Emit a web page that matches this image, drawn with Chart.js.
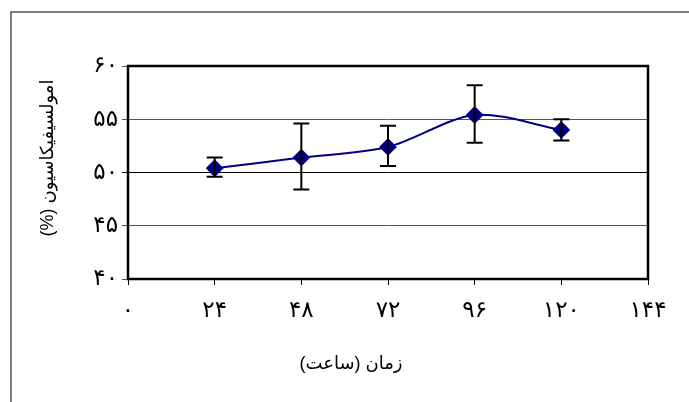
<!DOCTYPE html>
<html>
<head>
<meta charset="utf-8">
<script src="https://cdn.jsdelivr.net/npm/chart.js@4"></script>
<style>
  html, body { margin: 0; padding: 0; background: #fff; }
  #wrap { width: 689px; height: 402px; }
</style>
</head>
<body>
<div id="wrap"><canvas id="chart"></canvas></div>
<script>
// chart values
const hours = [24, 48, 72, 96, 120];
const emulsification = [50.4, 51.4, 52.4, 55.4, 54.0];
const errLow = [49.6, 48.4, 50.6, 52.8, 53.0];
const errHigh = [51.4, 54.6, 54.4, 58.2, 55.0];

const xTickLabels = ['۰', '۲۴', '۴۸', '۷۲', '۹۶', '۱۲۰', '۱۴۴'];
const yTickLabels = ['۴۰', '۴۵', '۵۰', '۵۵', '۶۰'];

const xTitle = 'زمان (ساعت)';
const yTitle = 'امولسیفیکاسیون (%)';

const fontFamily = "'Liberation Sans', 'DejaVu Sans', sans-serif";

// error bars drawn through the chart scales
const errorBars = {
  id: 'errorBars',
  afterDatasetsDraw(chart) {
    const ctx = chart.ctx;
    const xs = chart.scales.x, ys = chart.scales.y;
    ctx.save();
    ctx.strokeStyle = '#000';
    ctx.lineWidth = 2;
    hours.forEach((h, i) => {
      const x = xs.getPixelForValue(h);
      const yLo = ys.getPixelForValue(errLow[i]);
      const yHi = ys.getPixelForValue(errHigh[i]);
      ctx.beginPath();
      ctx.moveTo(x, yLo); ctx.lineTo(x, yHi);
      ctx.moveTo(x - 8, yLo); ctx.lineTo(x + 8, yLo);
      ctx.moveTo(x - 8, yHi); ctx.lineTo(x + 8, yHi);
      ctx.stroke();
    });
    ctx.restore();
  }
};

// plot frame, outer border (top + left only) and the two axis titles (rtl)
const frames = {
  id: 'frames',
  beforeDraw(chart) {
    const ctx = chart.ctx;
    ctx.save();
    ctx.strokeStyle = '#555';
    ctx.lineWidth = 1.5;
    ctx.beginPath();
    ctx.moveTo(11, chart.height);
    ctx.lineTo(11, 12);
    ctx.lineTo(chart.width, 12);
    ctx.stroke();
    ctx.restore();
  },
  afterDraw(chart) {
    const a = chart.chartArea;
    const ctx = chart.ctx;
    ctx.save();
    ctx.strokeStyle = '#000';
    ctx.lineWidth = 2.5;
    ctx.strokeRect(a.left, a.top, a.right - a.left, a.bottom - a.top);

    ctx.fillStyle = '#000';
    ctx.font = '18px ' + fontFamily;
    ctx.direction = 'rtl';
    ctx.textAlign = 'center';
    ctx.textBaseline = 'middle';
    ctx.fillText(xTitle, 351, 364);

    ctx.translate(48, 158);
    ctx.rotate(-Math.PI / 2);
    ctx.fillText(yTitle, 0, 0);
    ctx.restore();
  }
};

new Chart(document.getElementById('chart'), {
  type: 'line',
  data: {
    datasets: [{
      data: hours.map((h, i) => ({ x: h, y: emulsification[i] })),
      borderColor: '#000080',
      borderWidth: 2,
      backgroundColor: '#000080',
      pointStyle: 'rectRot',
      pointRadius: 7.5,
      pointBackgroundColor: '#000080',
      pointBorderColor: '#000080',
      tension: 0.3,
      fill: false
    }]
  },
  options: {
    responsive: true,
    maintainAspectRatio: false,
    animation: false,
    layout: { padding: { top: 66, right: 41, left: 0, bottom: 0 } },
    plugins: {
      legend: { display: false },
      tooltip: { enabled: false }
    },
    scales: {
      x: {
        type: 'linear',
        min: 0,
        max: 144,
        afterFit: (scale) => { scale.height = 123; },
        afterBuildTicks: (scale) => {
          scale.ticks = xTickLabels.map((_, i) => ({ value: i * 24 }));
        },
        ticks: {
          autoSkip: false,
          maxRotation: 0,
          padding: 12,
          color: '#000',
          font: { family: fontFamily, size: 23 },
          callback: (v) => xTickLabels[v / 24]
        },
        grid: { drawOnChartArea: false, drawTicks: true, tickLength: 6, color: '#000' },
        border: { color: '#000', width: 2 }
      },
      y: {
        min: 40,
        max: 60,
        afterFit: (scale) => { scale.width = 128; },
        afterBuildTicks: (scale) => {
          scale.ticks = yTickLabels.map((_, i) => ({ value: 40 + i * 5 }));
        },
        ticks: {
          padding: 4,
          color: '#000',
          font: { family: fontFamily, size: 23 },
          callback: (v) => yTickLabels[(v - 40) / 5]
        },
        grid: {
          drawTicks: true,
          tickLength: 6,
          lineWidth: 1,
          color: (c) => (c.tick && c.tick.value === 50 ? '#000' : '#555')
        },
        border: { color: '#000', width: 2 }
      }
    }
  },
  plugins: [frames, errorBars]
});
</script>
</body>
</html>
